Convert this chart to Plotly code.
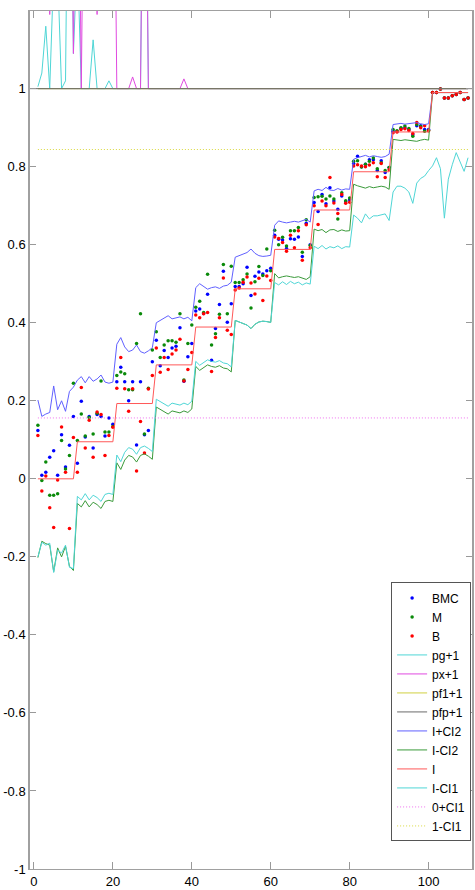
import plotly.graph_objects as go

x = list(range(1, 111))

BMC = [
    0.124, 0.009, 0.017, 0.055, 0.072, 0.009, 0.113, 0.030, 0.086, 0.160,
    0.040, 0.199, 0.107, 0.160, 0.079, 0.165, 0.160, 0.110, 0.156, 0.140,
    0.249, 0.286, 0.249, 0.200, 0.249, 0.087, 0.249, 0.113, 0.124, 0.300,
    0.355, 0.290, 0.329, 0.311, 0.335, 0.340, 0.387, 0.250, 0.313, 0.347,
    0.430, 0.435, 0.424, 0.473, 0.304, 0.385, 0.447, 0.532, 0.401, 0.449,
    0.493, 0.493, 0.500, 0.542, 0.470, 0.519, 0.530, 0.525, 0.533, 0.540,
    0.624, 0.614, 0.612, 0.590, 0.615, 0.614, 0.620, 0.570, 0.655, 0.600,
    0.708, 0.685, 0.729, 0.705, 0.746, 0.712, 0.691, 0.725, 0.710, 0.715,
    0.808, 0.827, 0.800, 0.806, 0.818, 0.818, 0.790, 0.815, 0.785, 0.798,
    0.891, 0.890, 0.898, 0.900, 0.895, 0.882, 0.905, 0.905, 0.895, 0.895,
    0.990, 0.990, 0.999, 0.976, 0.976, 0.982, 0.985, 0.990, 0.972, 0.976]

M = [
    0.137, -0.004, 0.043, -0.042, -0.042, -0.038, 0.098, 0.025, 0.060, 0.245,
    0.098, 0.166, 0.110, 0.157, 0.115, 0.168, 0.251, 0.120, 0.120, 0.134,
    0.265, 0.274, 0.269, 0.228, 0.228, 0.347, 0.423, 0.115, 0.232, 0.330,
    0.377, 0.311, 0.343, 0.354, 0.354, 0.350, 0.423, 0.253, 0.347, 0.394,
    0.440, 0.455, 0.426, 0.524, 0.343, 0.372, 0.422, 0.549, 0.423, 0.545,
    0.503, 0.503, 0.510, 0.525, 0.438, 0.505, 0.544, 0.521, 0.589, 0.533,
    0.637, 0.600, 0.619, 0.597, 0.636, 0.636, 0.644, 0.581, 0.664, 0.598,
    0.721, 0.723, 0.724, 0.717, 0.725, 0.717, 0.666, 0.733, 0.713, 0.720,
    0.814, 0.815, 0.799, 0.806, 0.814, 0.822, 0.795, 0.810, 0.790, 0.798,
    0.895, 0.892, 0.900, 0.904, 0.898, 0.878, 0.908, 0.903, 0.891, 0.893,
    0.990, 0.990, 0.999, 0.976, 0.976, 0.982, 0.985, 0.990, 0.972, 0.976]

B = [
    0.111, -0.031, 0.007, -0.074, -0.125, -0.003, 0.133, 0.017, -0.127, 0.106,
    0.017, 0.234, 0.079, 0.150, 0.055, 0.171, 0.165, 0.060, 0.111, 0.132,
    0.232, 0.311, 0.231, 0.173, 0.231, 0.020, 0.147, 0.066, 0.230, 0.265,
    0.335, 0.273, 0.311, 0.280, 0.320, 0.330, 0.358, 0.251, 0.280, 0.324,
    0.420, 0.413, 0.423, 0.426, 0.275, 0.362, 0.413, 0.515, 0.381, 0.370,
    0.484, 0.489, 0.504, 0.517, 0.502, 0.474, 0.514, 0.457, 0.520, 0.508,
    0.620, 0.616, 0.606, 0.583, 0.624, 0.592, 0.636, 0.560, 0.651, 0.592,
    0.700, 0.652, 0.712, 0.700, 0.772, 0.707, 0.680, 0.729, 0.706, 0.709,
    0.802, 0.805, 0.802, 0.800, 0.804, 0.810, 0.774, 0.808, 0.772, 0.792,
    0.887, 0.889, 0.895, 0.897, 0.893, 0.885, 0.913, 0.900, 0.905, 0.892,
    0.990, 0.990, 0.999, 0.976, 0.976, 0.982, 0.985, 0.990, 0.972, 0.976]

pg1 = ([1.005, 1.04, 1.16, 1.0, 1.3, 1.3, 1.0, 1.02, 2.0, 1.09,
        1.35, 1.0, 1.0, 1.0, 1.125, 1.0, 1.0, 1.0, 1.02, 1.0,
        1.0, 1.0, 1.0, 1.0, 1.0, 1.0, 1.0, 2.0, 1.0, 1.0]
       + [1.0] * 80)

px1 = ([2.0, 2.0, 2.0, 1.19, 2.0, 2.0, 2.0, 2.0, 2.0, 1.09,
        2.0, 1.0, 2.0, 2.0, 2.0, 1.19, 2.0, 2.0, 2.0, 2.0,
        1.0, 1.0, 1.0, 1.0, 1.03, 1.0, 1.0, 2.0, 1.0, 1.0,
        1.0, 1.0, 1.0, 1.0, 1.0, 1.0, 1.0, 1.025, 1.0, 1.0]
       + [1.0] * 70)

pf11 = [1.0] * 110
pfp1 = [1.0] * 110

I_CI2_hi = [
    0.202, 0.160, 0.166, 0.170, 0.238, 0.177, 0.200, 0.173, 0.224, 0.235,
    0.253, 0.262, 0.246, 0.262, 0.250, 0.256, 0.266, 0.248, 0.245, 0.248,
    0.345, 0.362, 0.338, 0.326, 0.330, 0.343, 0.326, 0.322, 0.328, 0.336,
    0.400, 0.406, 0.410, 0.418, 0.410, 0.412, 0.415, 0.410, 0.414, 0.405,
    0.490, 0.500, 0.492, 0.486, 0.490, 0.492, 0.488, 0.494, 0.496, 0.504,
    0.568, 0.572, 0.576, 0.580, 0.589, 0.578, 0.572, 0.570, 0.571, 0.573,
    0.650, 0.661, 0.658, 0.656, 0.658, 0.660, 0.658, 0.661, 0.665, 0.658,
    0.738, 0.742, 0.739, 0.747, 0.740, 0.739, 0.744, 0.740, 0.743, 0.742,
    0.819, 0.823, 0.827, 0.829, 0.825, 0.828, 0.826, 0.824, 0.826, 0.832,
    0.908, 0.910, 0.911, 0.909, 0.910, 0.912, 0.913, 0.910, 0.908, 0.910,
    0.989, 0.990, 0.990, 0.990, 0.990, 0.990, 0.990, 0.990, 0.990, 0.990]

I_CI2_lo = [
    -0.202, -0.160, -0.166, -0.170, -0.238, -0.177, -0.200, -0.173, -0.224, -0.235,
    -0.063, -0.072, -0.056, -0.072, -0.060, -0.066, -0.076, -0.058, -0.055, -0.058,
    0.041, 0.024, 0.048, 0.060, 0.056, 0.043, 0.060, 0.064, 0.058, 0.050,
    0.184, 0.178, 0.174, 0.166, 0.174, 0.172, 0.169, 0.174, 0.170, 0.179,
    0.288, 0.278, 0.286, 0.292, 0.288, 0.286, 0.290, 0.284, 0.282, 0.274,
    0.406, 0.402, 0.398, 0.394, 0.385, 0.396, 0.402, 0.404, 0.403, 0.401,
    0.526, 0.515, 0.518, 0.520, 0.518, 0.516, 0.518, 0.515, 0.511, 0.518,
    0.640, 0.636, 0.639, 0.631, 0.638, 0.639, 0.634, 0.638, 0.635, 0.636,
    0.755, 0.751, 0.747, 0.745, 0.749, 0.746, 0.748, 0.750, 0.748, 0.742,
    0.870, 0.868, 0.867, 0.869, 0.868, 0.866, 0.865, 0.868, 0.870, 0.868,
    0.990, 0.990, 0.990, 0.990, 0.990, 0.990, 0.990, 0.990, 0.990, 0.990]

I = ([0.0] * 10 + [0.095] * 10 + [0.193] * 10 + [0.292] * 10 + [0.389] * 10
     + [0.487] * 10 + [0.588] * 10 + [0.689] * 10 + [0.787] * 10 + [0.889] * 10
     + [0.990] * 10)

I_CI1_lo = [
    -0.200, -0.163, -0.170, -0.165, -0.240, -0.183, -0.190, -0.170, -0.227, -0.230,
    -0.045, -0.054, -0.038, -0.054, -0.042, -0.048, -0.058, -0.040, -0.037, -0.040,
    0.061, 0.044, 0.068, 0.080, 0.076, 0.063, 0.080, 0.084, 0.078, 0.070,
    0.204, 0.198, 0.194, 0.186, 0.194, 0.192, 0.189, 0.194, 0.190, 0.199,
    0.301, 0.291, 0.299, 0.305, 0.301, 0.299, 0.303, 0.297, 0.295, 0.287,
    0.406, 0.402, 0.398, 0.394, 0.385, 0.396, 0.402, 0.404, 0.403, 0.401,
    0.503, 0.497, 0.505, 0.498, 0.506, 0.500, 0.504, 0.497, 0.502, 0.499,
    0.596, 0.590, 0.598, 0.589, 0.595, 0.592, 0.597, 0.590, 0.595, 0.594,
    0.676, 0.668, 0.656, 0.679, 0.666, 0.674, 0.674, 0.676, 0.679, 0.662,
    0.735, 0.750, 0.750, 0.745, 0.735, 0.706, 0.758, 0.770, 0.776, 0.790,
    0.802, 0.823, 0.795, 0.668, 0.768, 0.805, 0.836, 0.812, 0.788, 0.823]

CI1_lo = [0.156] * 110
CI1_hi = [0.844] * 110

x_ticks = [0, 20, 40, 60, 80, 100]
y_ticks = [-1, -0.8, -0.6, -0.4, -0.2, 0, 0.2, 0.4, 0.6, 0.8, 1]
y_tick_text = ["-1", "-0.8", "-0.6", "-0.4", "-0.2", "0", "0.2", "0.4", "0.6", "0.8", "1"]

fig = go.Figure()

for name, ys, col in [("BMC", BMC, "#0000ff"), ("M", M, "#0a8a0a"), ("B", B, "#ff0000")]:
    fig.add_trace(go.Scatter(x=x, y=ys, mode="markers", name=name,
                             marker=dict(color=col, size=3.5)))

line_specs = [
    ("pg+1", pg1, "#4fd6d6", "solid"),
    ("px+1", px1, "#e04ae0", "solid"),
    ("pf1+1", pf11, "#d0d040", "solid"),
    ("pfp+1", pfp1, "#6a6a6a", "solid"),
    ("I+CI2", I_CI2_hi, "#6060ff", "solid"),
    ("I-CI2", I_CI2_lo, "#3a9a3a", "solid"),
    ("I", I, "#ff5858", "solid"),
    ("I-CI1", I_CI1_lo, "#4fd6d6", "solid"),
    ("0+CI1", CI1_lo, "#f070f0", "1px,2px"),
    ("1-CI1", CI1_hi, "#dada40", "1px,2px"),
]
for name, ys, col, dash in line_specs:
    fig.add_trace(go.Scatter(x=x, y=ys, mode="lines", name=name,
                             line=dict(color=col, width=1, dash=dash)))

fig.add_hline(y=pfp1[0], line=dict(color="#6a6a6a", width=1), layer="below")

font_family = "Liberation Sans Narrow, Liberation Sans, Arial, sans-serif"

fig.update_layout(
    width=475, height=890,
    margin=dict(l=30, r=1, t=11, b=17),
    paper_bgcolor="white", plot_bgcolor="white",
    font=dict(family=font_family, size=13, color="black"),
    showlegend=True,
    legend=dict(x=0.998, y=0.334, xanchor="right", yanchor="top",
                bgcolor="white", bordercolor="#555555", borderwidth=1,
                font=dict(family=font_family, size=12, color="black"),
                tracegroupgap=0, itemwidth=30),
)
fig.update_xaxes(range=[-1, 111], tickvals=x_ticks, ticks="inside", ticklen=7,
                 tickcolor="#999999", showline=True, linecolor="#a0a0a0", linewidth=1,
                 mirror="ticks", showgrid=False, zeroline=False)
fig.update_yaxes(range=[-1, 1.199], tickvals=y_ticks, ticktext=y_tick_text,
                 ticks="inside", ticklen=6, tickcolor="#999999", showline=True,
                 linecolor="#a0a0a0", linewidth=1.5, mirror="ticks",
                 showgrid=False, zeroline=False)

fig.write_html("out.html")
